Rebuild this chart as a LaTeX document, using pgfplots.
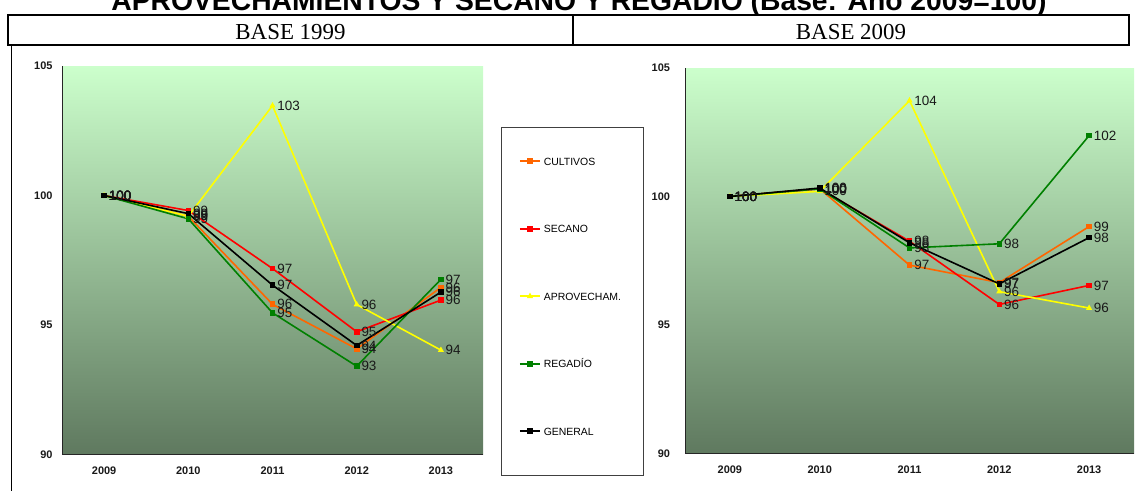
\documentclass[border=0pt]{standalone}
\usepackage{fontspec}
\setmainfont{Liberation Sans}
\newfontfamily\seriffont{Liberation Serif}
\usepackage{pgfplots}
\pgfplotsset{compat=1.18}
\definecolor{cOr}{HTML}{FF6600}
\definecolor{cRe}{HTML}{FF0000}
\definecolor{cYe}{HTML}{FFFF00}
\definecolor{cGr}{HTML}{008000}
\definecolor{cBk}{HTML}{000000}
\definecolor{bgTop}{HTML}{CCFFCC}
\definecolor{bgBot}{HTML}{5F795F}
\pgfplotsset{
 chartbase/.style={
   scale only axis, xmin=-0.5, xmax=4.5, ymin=90, ymax=105,
   ytick={90,95,100,105}, xtick={0,1,2,3,4}, xticklabels={2009,2010,2011,2012,2013},
   axis x line*=bottom, axis y line*=left,
   axis line style={draw=black!85, line width=1bp, -},
   major tick length=0pt,
   axis background/.style={shade, top color=bgTop, bottom color=bgBot},
   ticklabel style={font=\fontsize{11}{13}\selectfont\bfseries, text=black!90},
   /pgf/number format/assume math mode=true,
   yticklabel style={xshift=-6bp},
   xticklabel style={yshift=-9bp},
   every axis plot/.append style={line width=1.6bp, mark size=2bp, mark options={solid}},
   nodes near coords={\pgfmathprintnumber[fixed,precision=0]{\pgfplotspointmeta}},
   every node near coord/.append style={anchor=west, font=\fontsize{13.5}{15}\selectfont, text=black!90, xshift=2bp, inner sep=2bp},
   clip=false,
 }
}
\begin{document}
\begin{tikzpicture}
\useasboundingbox (0bp,0bp) rectangle (1137bp,-491bp);
% title (cut at the top as in the reference)
\node[font=\bfseries\fontsize{28.4}{30}\selectfont, anchor=base, inner sep=0pt] at (579bp,-10bp) {APROVECHAMIENTOS Y SECANO Y REGADÍO (Base: Año 2009=100)};
\draw[line width=2bp] (8bp,-15bp) rectangle (1129bp,-45bp);
\draw[line width=1.5bp] (573bp,-15bp) -- (573bp,-45bp);
\node[font=\seriffont\fontsize{23}{25}\selectfont, anchor=base, inner sep=0pt] at (290.5bp,-39.5bp) {BASE 1999};
\node[font=\seriffont\fontsize{23}{25}\selectfont, anchor=base, inner sep=0pt] at (851bp,-39.5bp) {BASE 2009};
\draw[line width=1bp] (11bp,-46bp) -- (11bp,-491bp);
\draw[black!75, line width=1bp] (501bp,-127bp) rectangle (643bp,-475bp);

\begin{axis}[chartbase, at={(62bp,-454.5bp)}, anchor=south west, width=421bp, height=388.5bp,
  legend style={at={(1.0855,0.765)}, anchor=north west, draw=none, fill=none, inner sep=0pt,
    row sep=60bp, font=\fontsize{10.5}{12}\selectfont,
    nodes={inner sep=0pt, text height=7.5bp, text depth=0bp},
    /tikz/every odd column/.append style={column sep=3bp}},
  legend cell align=left,
  legend image code/.code={\draw[mark repeat=2,mark phase=2,#1] plot coordinates {(0bp,0bp)(10bp,0bp)(20bp,0bp)};}]
\addplot[cOr, mark=square*] coordinates {(0,100)(1,99.2)(2,95.8)(3,94.08)(4,96.45)};
\addlegendentry{CULTIVOS}
\addplot[cRe, mark=square*] coordinates {(0,100)(1,99.42)(2,97.18)(3,94.74)(4,95.96)};
\addlegendentry{SECANO}
\addplot[cYe, mark=triangle*] coordinates {(0,100)(1,99.2)(2,103.47)(3,95.79)(4,94.03)};
\addlegendentry{APROVECHAM.}
\addplot[cGr, mark=square*] coordinates {(0,100)(1,99.1)(2,95.47)(3,93.41)(4,96.76)};
\addlegendentry{REGADÍO}
\addplot[cBk, mark=square*] coordinates {(0,100)(1,99.3)(2,96.54)(3,94.21)(4,96.27)};
\addlegendentry{GENERAL}
\end{axis}

\begin{axis}[chartbase, at={(685bp,-453.5bp)}, anchor=south west, width=449bp, height=385.5bp, yticklabel style={xshift=-5.5bp}]
\addplot[cOr, mark=square*] coordinates {(0,100)(1,100.3)(2,97.33)(3,96.65)(4,98.83)};
\addplot[cRe, mark=square*] coordinates {(0,100)(1,100.3)(2,98.26)(3,95.8)(4,96.54)};
\addplot[cYe, mark=triangle*] coordinates {(0,100)(1,100.2)(2,103.73)(3,96.3)(4,95.66)};
\addplot[cGr, mark=square*] coordinates {(0,100)(1,100.3)(2,98.0)(3,98.16)(4,102.37)};
\addplot[cBk, mark=square*] coordinates {(0,100)(1,100.33)(2,98.2)(3,96.6)(4,98.4)};
\end{axis}
\end{tikzpicture}
\end{document}
